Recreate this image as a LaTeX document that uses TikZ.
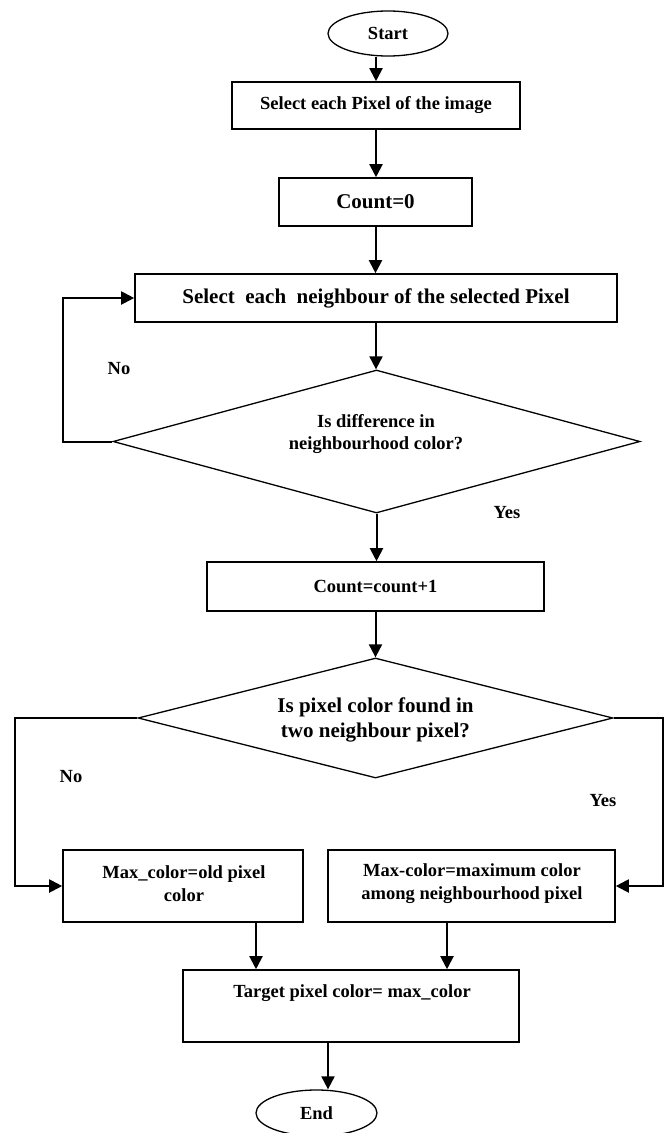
\documentclass[tikz,border=0pt]{standalone}
\usepackage{fontspec}
\setmainfont{Liberation Serif}
\usetikzlibrary{shapes.geometric,arrows.meta,calc}
\newcommand\fsA{\fontsize{18.5}{22.5}\selectfont\bfseries}
\newcommand\fsB{\fontsize{21}{25}\selectfont\bfseries}
\begin{document}
\begin{tikzpicture}[x=1pt,y=-1pt,
  box/.style={draw, line width=1.6pt, inner sep=0pt},
  dia/.style={draw, diamond, line width=1.3pt, inner sep=0pt},
  term/.style={draw, ellipse, line width=1.3pt, inner sep=0pt},
  arr/.style={line width=2pt, -{Triangle[length=13pt,width=13pt]}},
  lbl/.style={font=\fsA, align=center}]
\useasboundingbox (0,0) rectangle (671,1133);
\fill[white] (0,0) rectangle (671,1133);
% nodes
\node[term, minimum width=120pt, minimum height=45pt, font=\fsA] (start) at (388,33.5) {Start};
\node[box, minimum width=288pt, minimum height=47pt, font=\fsA] (b1) at (376,105.5) {Select each Pixel of the image};
\node[box, minimum width=193pt, minimum height=48pt, font=\fsB] (b2) at (375.5,202) {Count=0};
\node[box, minimum width=482pt, minimum height=48pt, font=\fsB] (b3) at (376,298) {Select~ each~ neighbour of the selected Pixel};
\node[dia, minimum width=527pt, minimum height=143pt] (d1) at (376.5,441.5) {};
\node[lbl] (d1t) at (376,434) {Is difference in\\neighbourhood color?};
\node[lbl] (no1) at (119,369) {No};
\node[lbl] (yes1) at (507,513) {Yes};
\node[box, minimum width=337pt, minimum height=49pt, font=\fsA] (b4) at (375.5,586.5) {Count=count+1};
\node[dia, minimum width=475pt, minimum height=120pt] (d2) at (375.5,718) {};
\node[lbl, font=\fsB] (d2t) at (375.5,719.5) {Is pixel color found in\\two neighbour pixel?};
\node[lbl] (no2) at (71,777) {No};
\node[lbl] (yes2) at (603,801) {Yes};
\node[box, minimum width=240pt, minimum height=72pt] (bl) at (183,886) {};
\node[lbl] (blt) at (184,883.5) {Max\_color=old pixel\\color};
\node[box, minimum width=287pt, minimum height=72pt] (br) at (471.5,886) {};
\node[lbl] (brt) at (472,883.5) {Max-color=maximum color\\among neighbourhood pixel};
\node[box, minimum width=336pt, minimum height=72pt] (tg) at (351,1006) {};
\node[lbl] (tgt) at (352,993) {Target pixel color= max\_color};
\node[term, minimum width=121pt, minimum height=46pt, font=\fsA] (endn) at (316.5,1113) {End};
% helper coordinates
\coordinate (lp) at (63,0);
\coordinate (lx) at (15,0);
\coordinate (rx) at (663,0);
\coordinate (ax1) at (256,0);
\coordinate (ax2) at (447,0);
\coordinate (ax3) at (328,0);
% connectors
\draw[arr] (start.south -| b1.north) -- (b1.north);
\draw[arr] (b1.south) -- (b1.south |- b2.north);
\draw[arr] (b2.south) -- (b2.south |- b3.north);
\draw[arr] (b3.south) -- (b3.south |- d1.north);
\draw[arr] (d1.west) -- (d1.west -| lp) |- (b3.west);
\draw[arr] (d1.south) -- (d1.south |- b4.north);
\draw[arr] (b4.south) -- (b4.south |- d2.north);
\draw[arr] (d2.west) -- (d2.west -| lx) |- (bl.west);
\draw[arr] (d2.east) -- (d2.east -| rx) |- (br.east);
\draw[arr] (bl.south -| ax1) -- (tg.north -| ax1);
\draw[arr] (br.south -| ax2) -- (tg.north -| ax2);
\draw[arr] (tg.south -| ax3) -- (endn.north -| ax3);
\end{tikzpicture}
\end{document}
